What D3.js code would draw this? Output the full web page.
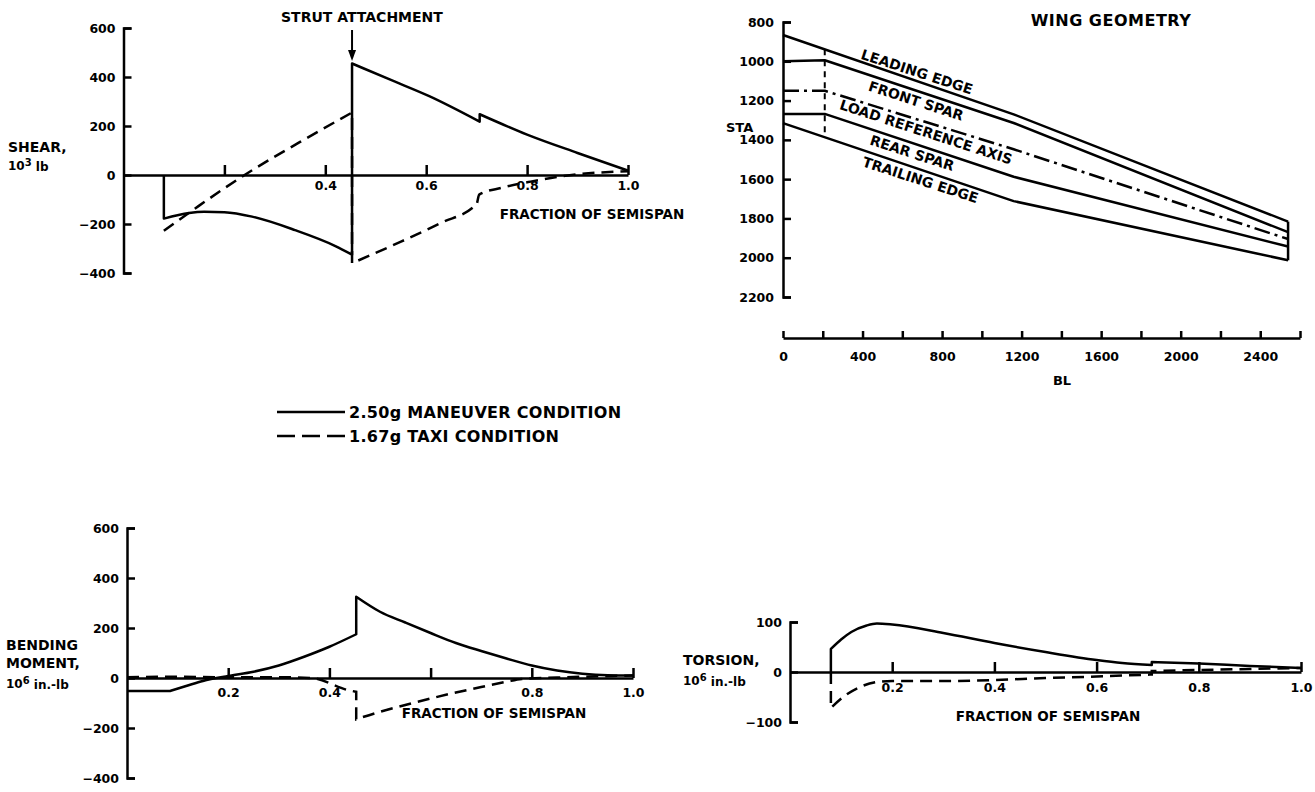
<!DOCTYPE html>
<html><head><meta charset="utf-8">
<script src="https://cdn.jsdelivr.net/npm/d3@7"></script>
<style>
body{margin:0;background:#fff;}
svg text{font-family:"DejaVu Sans",sans-serif;font-weight:bold;fill:#000;}
</style></head><body>
<svg id="c" width="1315" height="792"></svg>
<script>
// ---------------- DATA ----------------
const fracTicks = [0.2, 0.4, 0.6, 0.8, 1.0];
const shearFracLabels   = ["", "0.4", "0.6", "0.8", "1.0"];
const bendFracLabels    = ["0.2", "0.4", "", "0.8", "1.0"];
const torsionFracLabels = ["0.2", "0.4", "0.6", "0.8", "1.0"];

const shearYTicks   = [600, 400, 200, 0, -200, -400];
const bendYTicks    = [600, 400, 200, 0, -200, -400];
const torsionYTicks = [100, 0, -100];

// Shear, 10^3 lb
const shearManFrac = [0.08,0.08,0.13,0.16,0.2,0.255,0.34,0.42,0.453,0.453,0.53,0.606,0.706,0.706,0.8,0.9,1.0];
const shearManVal  = [0,-178,-155,-150,-152,-170,-225,-290,-325,455,388,322,218,248,165,90,18];
const shearTaxiFrac = [0.08,0.15,0.24,0.35,0.453,0.453,0.55,0.63,0.70,0.705,0.75,0.807,0.9,1.0];
const shearTaxiVal  = [-228,-125,0,135,255,-360,-272,-195,-118,-80,-52,-27,3,15];

// Bending moment, 10^6 in.-lb
const bendManFrac = [0,0.085,0.085,0.12,0.15,0.2,0.25,0.3,0.35,0.4,0.453,0.453,0.5,0.55,0.6,0.65,0.7,0.75,0.8,0.85,0.9,0.95,1.0];
const bendManVal  = [-52,-52,-52,-30,-12,8,25,50,85,125,175,325,265,222,180,140,108,78,50,30,17,11,10];
const bendTaxiFrac = [0,0.1,0.2,0.3,0.364,0.44,0.453,0.453,0.5,0.55,0.6,0.65,0.7,0.75,0.78,0.85,0.9,1.0];
const bendTaxiVal  = [3,5,3,3,0,-50,-55,-165,-135,-108,-82,-58,-36,-15,-4,2,5,10];

// Torsion, 10^6 in.-lb
const torManFrac = [0.08,0.08,0.1,0.12,0.15,0.17,0.2,0.3,0.4,0.5,0.6,0.65,0.708,0.708,0.8,0.9,1.0];
const torManVal  = [0,46,65,80,93,97,95,78,58,40,24,18,14,20,17,12,8];
const torTaxiFrac = [0.08,0.08,0.104,0.137,0.17,0.2,0.3,0.4,0.5,0.6,0.708,0.708,0.8,0.9,1.0];
const torTaxiVal  = [0,-72,-50,-30,-20,-18,-18,-16,-12,-9,-5,2,4,6,8];

// Wing geometry (BL, STA)
const wingBLTicks  = [0,200,400,600,800,1000,1200,1400,1600,1800,2000,2200,2400,2600];
const wingBLLabels = ["0","","400","","800","","1200","","1600","","2000","","2400",""];
const wingSTATicks = [800,1000,1200,1400,1600,1800,2000,2200];
const leadingBL  = [0, 1160, 2540];   const leadingSTA  = [866, 1270, 1816];
const frontBL    = [0, 210, 1160, 2540]; const frontSTA  = [1000, 995, 1314, 1870];
const loadRefBL  = [0, 210, 1160, 2540]; const loadRefSTA = [1150, 1150, 1448, 1905];
const rearBL     = [0, 210, 1160, 2540]; const rearSTA   = [1268, 1268, 1588, 1943];
const trailingBL = [0, 1160, 2540];   const trailingSTA = [1315, 1712, 2013];
const rootSideBL = 210;   // dashed station line
const tipBL = 2540;
const wingLabels = ["LEADING EDGE","FRONT SPAR","LOAD REFERENCE AXIS","REAR SPAR","TRAILING EDGE"];
const wingLabelBL  = [674, 669, 719, 649, 691];
const wingLabelSTA = [1054, 1202, 1360, 1467, 1604];

const strutFrac = 0.453;

// ---------------- DRAW ----------------
const svg = d3.select("#c");
svg.append("rect").attr("width",1315).attr("height",792).attr("fill","#fff");
const LW = 2.5;
const FONT = "DejaVu Sans";
const minus = d => d < 0 ? "\u2212" + Math.abs(d) : String(d);

function styleAxis(g, size){
  g.attr("font-family", null).attr("font-size", null);
  g.select(".domain").attr("stroke","#000").attr("stroke-width",LW);
  g.selectAll(".tick line").attr("stroke","#000").attr("stroke-width",LW);
  g.selectAll(".tick text").attr("font-family",FONT).attr("font-weight","bold")
    .attr("font-size",size).attr("fill","#000");
}
function txt(x, y, s, size, anchor){
  return svg.append("text").attr("x",x).attr("y",y).attr("dy","0.35em")
    .attr("font-size",size).attr("text-anchor",anchor||"start").text(s);
}
function seriesPath(xs, ys, fr, vals){
  const pts = fr.map((f,i)=>[xs(f), ys(vals[i])]);
  const runs = [[pts[0]]];
  for (let i=1;i<pts.length;i++){
    if (fr[i] === fr[i-1]) runs.push([pts[i]]); else runs[runs.length-1].push(pts[i]);
  }
  const gen = d3.line().curve(d3.curveMonotoneX);
  return runs.map((r,k)=>{ const d = gen(r); return k===0 ? d : "L" + d.slice(1); }).join("");
}
function fracPanel(o){
  const xs = d3.scaleLinear().domain([0,1]).range(o.xr);
  const ys = d3.scaleLinear().domain(o.yd).range(o.yr);
  const gy = svg.append("g").attr("transform",`translate(${xs(0)},0)`)
    .call(d3.axisLeft(ys).tickValues(o.yTicks).tickSize(-8).tickSizeOuter(-8).tickPadding(8).tickFormat(minus));
  styleAxis(gy, 12.5);
  const gx = svg.append("g").attr("transform",`translate(0,${ys(0)})`)
    .call(d3.axisBottom(xs).tickValues(fracTicks).tickSize(-10).tickSizeOuter(0).tickPadding(o.xPad)
      .tickFormat((d,i)=>o.xLabels[i]));
  styleAxis(gx, 12.5);
  svg.append("path").attr("d", seriesPath(xs, ys, o.manF, o.manV))
    .attr("fill","none").attr("stroke","#000").attr("stroke-width",LW).attr("stroke-linejoin","round");
  svg.append("path").attr("d", seriesPath(xs, ys, o.taxiF, o.taxiV))
    .attr("fill","none").attr("stroke","#000").attr("stroke-width",LW).attr("stroke-dasharray","12,7");
  return {xs, ys};
}

// Shear
const sh = fracPanel({xr:[123.5,628], yd:[-400,600], yr:[273,28], yTicks:shearYTicks,
  xLabels:shearFracLabels, xPad:6, manF:shearManFrac, manV:shearManVal, taxiF:shearTaxiFrac, taxiV:shearTaxiVal});
txt(8,147,"SHEAR,",14);
const t1 = txt(8,166,"10",12); t1.append("tspan").attr("dy","-0.45em").attr("font-size",10).text("3");
t1.append("tspan").attr("dy","0.45em").text(" lb");
txt(592,214,"FRACTION OF SEMISPAN",13.5,"middle");
txt(281,17,"STRUT ATTACHMENT",14);
const ax = sh.xs(strutFrac);
svg.append("line").attr("x1",ax).attr("x2",ax).attr("y1",30).attr("y2",54).attr("stroke","#000").attr("stroke-width",2);
svg.append("path").attr("d",`M${ax-4},50L${ax},61L${ax+4},50Z`).attr("fill","#000");

// Bending
fracPanel({xr:[127,633], yd:[-400,600], yr:[778,528], yTicks:bendYTicks,
  xLabels:bendFracLabels, xPad:10, manF:bendManFrac, manV:bendManVal, taxiF:bendTaxiFrac, taxiV:bendTaxiVal});
txt(6,645,"BENDING",14);
txt(6,663,"MOMENT,",14);
const t2 = txt(6,684,"10",12); t2.append("tspan").attr("dy","-0.45em").attr("font-size",10).text("6");
t2.append("tspan").attr("dy","0.45em").text(" in.-lb");
txt(494,713,"FRACTION OF SEMISPAN",13.5,"middle");

// Torsion
fracPanel({xr:[790,1301], yd:[-100,100], yr:[722,622], yTicks:torsionYTicks,
  xLabels:torsionFracLabels, xPad:11, manF:torManFrac, manV:torManVal, taxiF:torTaxiFrac, taxiV:torTaxiVal});
txt(683,660,"TORSION,",14);
const t3 = txt(683,681,"10",12); t3.append("tspan").attr("dy","-0.45em").attr("font-size",10).text("6");
t3.append("tspan").attr("dy","0.45em").text(" in.-lb");
txt(1048,716,"FRACTION OF SEMISPAN",13.5,"middle");

// Legend
svg.append("line").attr("x1",277).attr("x2",345).attr("y1",412).attr("y2",412).attr("stroke","#000").attr("stroke-width",LW);
svg.append("line").attr("x1",277).attr("x2",345).attr("y1",436).attr("y2",436).attr("stroke","#000").attr("stroke-width",LW).attr("stroke-dasharray","18,7");
txt(349,412,"2.50g MANEUVER CONDITION",16).attr("letter-spacing",0.3);
txt(349,436,"1.67g TAXI CONDITION",16).attr("letter-spacing",0.3);

// Wing geometry
const wx = d3.scaleLinear().domain([0,2600]).range([783,1300]);
const wy = d3.scaleLinear().domain([800,2200]).range([22,297]);
const gwy = svg.append("g").attr("transform",`translate(${wx(0)},0)`)
  .call(d3.axisLeft(wy).tickValues(wingSTATicks).tickSize(-8).tickSizeOuter(-8).tickPadding(9)
    .tickFormat(d => String(d)));
styleAxis(gwy, 12.5);
const gwx = svg.append("g").attr("transform","translate(0,338)")
  .call(d3.axisBottom(wx).tickValues(wingBLTicks).tickSize(-7).tickSizeOuter(0).tickPadding(14)
    .tickFormat((d,i)=>wingBLLabels[i]));
styleAxis(gwx, 12.5);
txt(1062,380,"BL",13,"middle");
txt(726,127,"STA",13);
txt(1111,20,"WING GEOMETRY",16,"middle").attr("letter-spacing",0.5);

const wl = d3.line();
function wingLine(bl, sta, dash){
  const p = svg.append("path").attr("d", wl(bl.map((b,i)=>[wx(b), wy(sta[i])])))
    .attr("fill","none").attr("stroke","#000").attr("stroke-width",LW).attr("stroke-linejoin","round");
  if (dash) p.attr("stroke-dasharray",dash);
}
wingLine(leadingBL, leadingSTA);
wingLine(frontBL, frontSTA);
wingLine(loadRefBL, loadRefSTA, "16,5,3,5");
wingLine(rearBL, rearSTA);
wingLine(trailingBL, trailingSTA);
// tip chord
const interp = (bl, sta, b) => d3.scaleLinear().domain(bl).range(sta)(b);
svg.append("line").attr("x1",wx(tipBL)).attr("x2",wx(tipBL))
  .attr("y1",wy(leadingSTA[leadingSTA.length-1])).attr("y2",wy(trailingSTA[trailingSTA.length-1]))
  .attr("stroke","#000").attr("stroke-width",LW);
// side-of-body dashed station
svg.append("line").attr("x1",wx(rootSideBL)).attr("x2",wx(rootSideBL))
  .attr("y1",wy(interp(leadingBL,leadingSTA,rootSideBL))).attr("y2",wy(interp(trailingBL,trailingSTA,rootSideBL)))
  .attr("stroke","#000").attr("stroke-width",2).attr("stroke-dasharray","6,5");
wingLabels.forEach((s,i)=>{
  svg.append("text").attr("transform",`translate(${wx(wingLabelBL[i])},${wy(wingLabelSTA[i])}) rotate(18)`)
    .attr("text-anchor","middle").attr("dy","0.35em").attr("font-size",14).text(s);
});
</script>
</body></html>
